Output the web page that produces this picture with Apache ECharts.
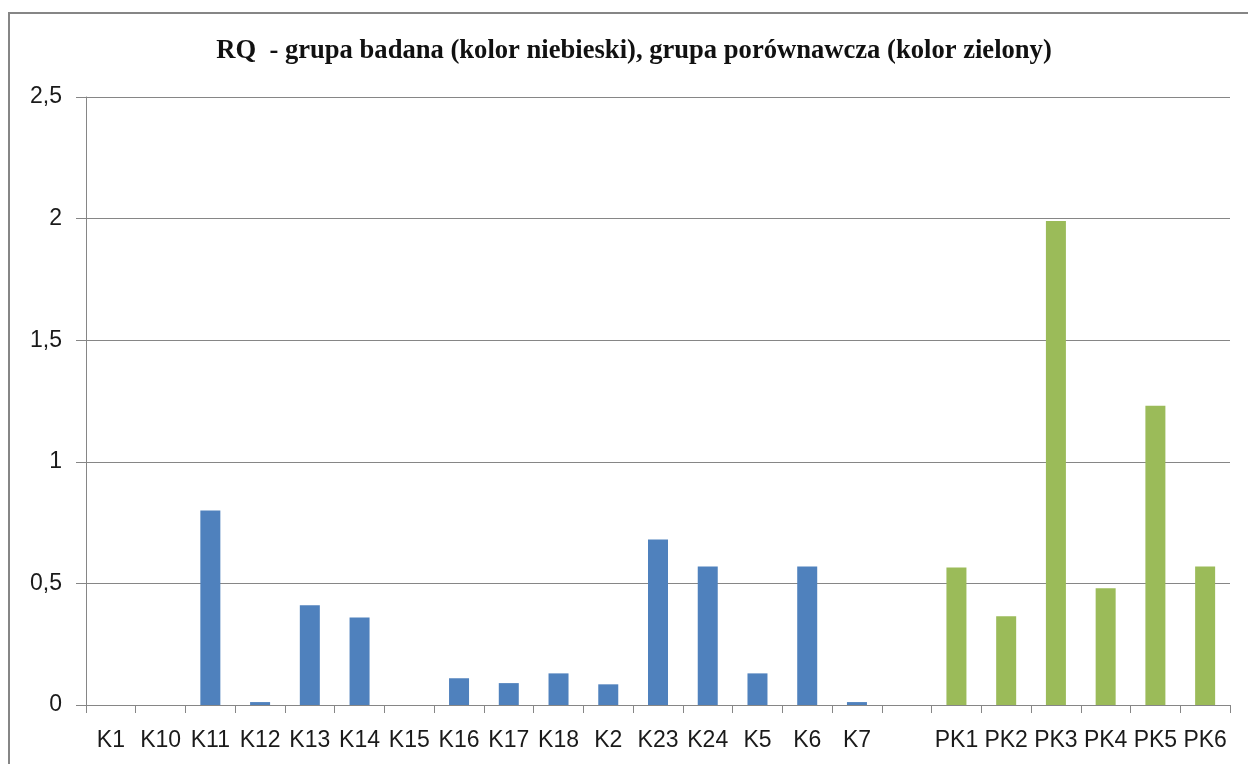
<!DOCTYPE html>
<html>
<head>
<meta charset="utf-8">
<script src="https://cdn.jsdelivr.net/npm/echarts@6/dist/echarts.min.js"></script>
<style>
html,body{margin:0;padding:0;background:#fff;}
#chart{width:1248px;height:764px;}
</style>
</head>
<body>
<div id="chart"></div>
<script>
const titleText = 'RQ  - grupa badana (kolor niebieski), grupa porównawcza (kolor zielony)';
const categories = ['K1','K10','K11','K12','K13','K14','K15','K16','K17','K18','K2','K23','K24','K5','K6','K7','','PK1','PK2','PK3','PK4','PK5','PK6'];
const studyGroup = [0,0,0.80,0.012,0.41,0.36,0,0.11,0.09,0.13,0.085,0.68,0.57,0.13,0.57,0.012,null,null,null,null,null,null,null];
const compareGroup = [null,null,null,null,null,null,null,null,null,null,null,null,null,null,null,null,null,0.565,0.365,1.99,0.48,1.23,0.57];
const yTicks = [0,0.5,1,1.5,2,2.5];

const chart = echarts.init(document.getElementById('chart'));
const labelFont = '"Liberation Sans", Arial, sans-serif';
chart.setOption({
  animation:false,
  backgroundColor:'#fff',
  graphic:[{
    type:'rect', shape:{x:9,y:13,width:1300,height:800},
    style:{fill:'none',stroke:'#868686',lineWidth:2}, silent:true
  }],
  title:{
    text:titleText, left:629, textAlign:'center', top:33,
    textStyle:{fontFamily:'"Liberation Serif","Times New Roman",serif',fontWeight:'bold',fontSize:26.6,color:'#111'}
  },
  grid:{left:86,right:18,top:97,bottom:59,containLabel:false},
  xAxis:{
    type:'category', data:categories,
    axisLine:{lineStyle:{color:'#868686',width:1}},
    axisTick:{show:true,length:8,alignWithLabel:false,lineStyle:{color:'#868686'}},
    axisLabel:{interval:0,color:'#1a1a1a',fontFamily:labelFont,fontSize:23,margin:24}
  },
  yAxis:{
    type:'value', min:0, max:2.5, interval:0.5,
    axisLine:{show:true,lineStyle:{color:'#868686'}},
    axisTick:{show:true,length:10,lineStyle:{color:'#868686'}},
    splitLine:{lineStyle:{color:'#868686',width:1}},
    axisLabel:{color:'#1a1a1a',fontFamily:labelFont,fontSize:23,margin:24,
      formatter:v=>String(v).replace('.',',')}
  },
  series:[
    {name:'grupa badana',type:'bar',stack:'g',data:studyGroup,barWidth:20,
     itemStyle:{color:'#4F81BD'}},
    {name:'grupa porównawcza',type:'bar',stack:'g',data:compareGroup,barWidth:20,
     itemStyle:{color:'#9BBB59'}}
  ]
});
</script>
</body>
</html>
